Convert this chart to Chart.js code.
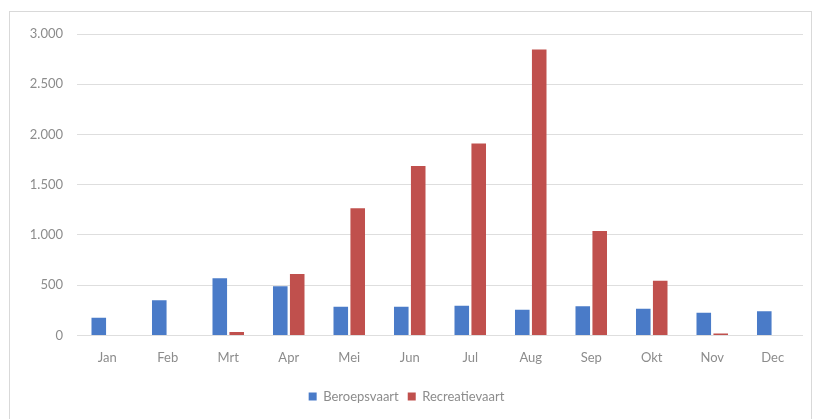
<!DOCTYPE html>
<html>
<head>
<meta charset="utf-8">
<script src="https://cdn.jsdelivr.net/npm/chart.js@4"></script>
<style>
  html, body { margin: 0; padding: 0; background: #fff; }
  #frame {
    position: absolute; left: 9px; top: 11px;
    width: 803px; height: 408px;
    border-left: 1px solid #d9d9d9; border-top: 1px solid #d9d9d9; border-right: 1px solid #d9d9d9;
    box-sizing: border-box;
  }
  #chart-wrap { position: absolute; left: 0; top: 0; width: 801px; height: 407px; }
</style>
</head>
<body>
<div id="frame">
  <div id="chart-wrap"><canvas id="chart"></canvas></div>
</div>
<script>
// Months (Dutch) and the two series
const months = ['Jan', 'Feb', 'Mrt', 'Apr', 'Mei', 'Jun', 'Jul', 'Aug', 'Sep', 'Okt', 'Nov', 'Dec'];
const beroepsvaart = [175, 350, 570, 490, 285, 285, 295, 255, 290, 265, 225, 240];
const recreatievaart = [0, 0, 35, 610, 1265, 1685, 1910, 2845, 1040, 545, 20, 0];
const yTicks = [0, 500, 1000, 1500, 2000, 2500, 3000];

// Dutch thousand separator
function fmt(v) {
    return String(v).replace(/\B(?=(\d{3})+(?!\d))/g, '.');
}

const labelColor = '#8c8c8c';
const gridColor = '#dedede';

const ctx = document.getElementById('chart').getContext('2d');
new Chart(ctx, {
    type: 'bar',
    data: {
        labels: months,
        datasets: [
            {
                label: 'Beroepsvaart',
                data: beroepsvaart,
                backgroundColor: '#4a7bc8',
                categoryPercentage: 0.56,
                barPercentage: 0.86
            },
            {
                label: 'Recreatievaart',
                data: recreatievaart,
                backgroundColor: '#c0504d',
                categoryPercentage: 0.56,
                barPercentage: 0.86
            }
        ]
    },
    options: {
        responsive: true,
        maintainAspectRatio: false,
        animation: false,
        layout: {
            padding: { left: 0, right: 8, top: 22, bottom: 6 }
        },
        plugins: {
            legend: {
                position: 'bottom',
                labels: {
                    color: labelColor,
                    boxWidth: 8,
                    boxHeight: 8,
                    padding: 9,
                    font: { family: 'Lato', size: 13 }
                }
            },
            tooltip: { enabled: false }
        },
        scales: {
            x: {
                grid: { display: false, drawTicks: false },
                border: { display: false },
                ticks: {
                    color: labelColor,
                    padding: 15,
                    font: { family: 'Lato', size: 13 }
                }
            },
            y: {
                min: 0,
                max: 3000,
                afterBuildTicks: function(scale) {
                    scale.ticks = yTicks.map(v => ({ value: v }));
                },
                afterFit: function(scale) {
                    scale.width = 67;
                },
                grid: { color: gridColor, drawTicks: false, lineWidth: 1 },
                border: { display: false },
                ticks: {
                    color: labelColor,
                    padding: 14,
                    font: { family: 'Lato', size: 13 },
                    callback: v => fmt(v)
                }
            }
        }
    }
});
</script>
</body>
</html>
